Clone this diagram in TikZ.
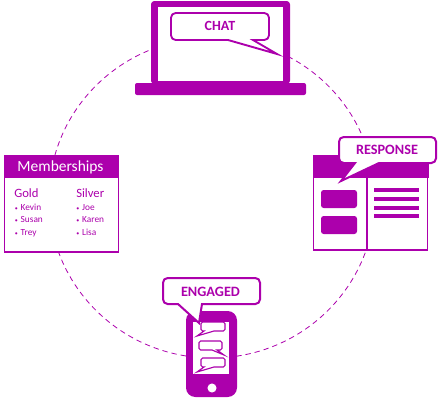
\documentclass[tikz,border=0pt]{standalone}
\usepackage{fontspec}
\setmainfont{Carlito}
\definecolor{pur}{HTML}{AC00AC}
\newcommand{\callout}[9][1.4pt]{%
  \draw[pur,line width=#1,fill=white,line join=miter]
    (#6,#5) -- (#7,#8) -- (#9,#5) [rounded corners=\cornerr] -- (#4,#5) -- (#4,#3) -- (#2,#3) -- (#2,#5) [sharp corners] -- cycle;}
\newcommand{\cornerr}{3.5pt}
\newcommand{\bul}[1]{{\fontsize{4.5pt}{5pt}\selectfont •}\hspace{2.2pt}#1}
\tikzset{
  x=0.75pt,y=-0.75pt,
  solidp/.style={fill=pur,draw=none},
  panel/.style={draw=pur,line width=0.8pt,fill=white},
  lab/.style={inner sep=0pt,text=pur,font=\fontsize{7pt}{8pt}\selectfont,anchor=base west},
  head/.style={inner sep=0pt,text=pur,font=\fontsize{9.5pt}{11pt}\selectfont,anchor=base west},
  calltext/.style={inner sep=0pt,text=pur,font=\bfseries\fontsize{10.7pt}{12pt}\selectfont},
}
\begin{document}
\begin{tikzpicture}
\useasboundingbox (0,0) rectangle (438,400);
% ring
\draw[pur,line width=0.6pt,dash pattern=on 4pt off 3pt] (212,198) ellipse [x radius=163,y radius=160];
% laptop
\path[solidp,rounded corners=2.5pt] (151,84) -- (151,1) -- (290,1) -- (290,84) -- cycle;
\path[fill=white] (158,7) rectangle (283,81);
\path[solidp,rounded corners=1.5pt] (135,83) rectangle (306,95);
\callout{171}{13}{269}{40}{228}{277}{54}{253}
\node[calltext,font=\bfseries\fontsize{10.5pt}{12pt}\selectfont] (chat) at (220,26) {CHAT};
% memberships
\draw[panel] (4.5,155.5) rectangle (118.5,252);
\path[solidp] (4,155) rectangle (119,178);
\node[inner sep=0pt,text=white,font=\fontsize{11.6pt}{14pt}\selectfont] (mem) at (60.5,167) {Memberships};
\node[head] (gold) at (14,197) {Gold};
\node[head] (silver) at (76,197) {Silver};
\node[lab] (kevin) at (14.5,210) {\bul{Kevin}};
\node[lab] (susan) at (14.5,222) {\bul{Susan}};
\node[lab] (trey) at (14.5,235) {\bul{Trey}};
\node[lab] (joe) at (76,210) {\bul{Joe}};
\node[lab] (karen) at (76,222) {\bul{Karen}};
\node[lab] (lisa) at (76,235) {\bul{Lisa}};
% response panel
\draw[panel] (313.5,155.5) rectangle (427.5,250);
\path[solidp] (313,155) rectangle (429,178);
\draw[pur,line width=0.8pt] (367,178) -- (367,250);
\path[solidp,rounded corners=2pt] (321,190) rectangle (357,208);
\path[solidp,rounded corners=2pt] (321,216) rectangle (357,234);
\foreach \yy in {190,199,208,216}
  \draw[pur,line width=2.3pt] (374,\yy) -- (419,\yy);
\callout[1.5pt]{339}{137}{436}{163}{355}{341}{181}{379}
\node[calltext] (resp) at (387,150) {RESPONSE};
% phone
\path[solidp,rounded corners=7pt] (186,311) rectangle (237,397);
\path[fill=white] (193,322) rectangle (229,374);
\path[fill=white] (212,388) circle (3.4pt);
\renewcommand{\cornerr}{1.2pt}
\callout[0.85pt]{201}{322}{225}{331}{204}{197}{336}{214}
\callout[0.85pt]{199}{341}{222}{350}{212}{224}{355}{217}
\callout[0.85pt]{201}{358}{225}{367}{204}{197}{372}{214}
\renewcommand{\cornerr}{3.5pt}
\callout[1.5pt]{163}{278}{260}{304}{178}{199}{323}{202}
\node[calltext] (eng) at (210.5,292) {ENGAGED};
\end{tikzpicture}
\end{document}
